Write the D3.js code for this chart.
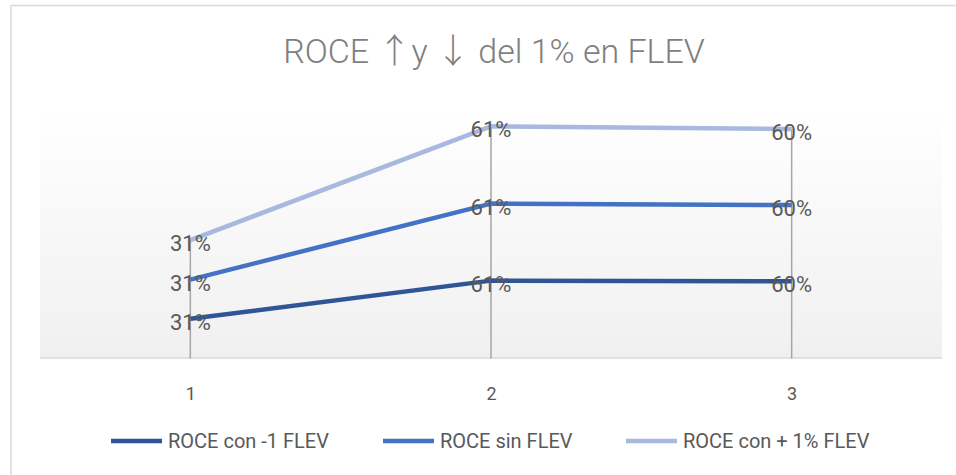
<!DOCTYPE html>
<html><head><meta charset="utf-8">
<script src="https://cdn.jsdelivr.net/npm/d3@7"></script>
<style>body{margin:0;background:#fff;}svg{display:block;font-family:Roboto,"Open Sans",sans-serif;}</style>
</head><body><svg id="c" width="956" height="475"></svg>
<script>
const categories = ["1", "2", "3"];
const seriesNames = ["ROCE con -1 FLEV", "ROCE sin FLEV", "ROCE con + 1% FLEV"];
const roceMinus = [0.307, 0.609, 0.603];
const roceSin = [0.31, 0.61, 0.604];
const rocePlus = [0.313, 0.612, 0.602];
const colors = ["#2F5597", "#4472C4", "#A9B8DE"];
const titleParts = ["ROCE ", "\u2191", "y ", "\u2193", " del 1% en FLEV"];

const svg = d3.select("#c");
const plot = {left: 40, right: 942, top: 105, bottom: 357.5};

svg.append("rect").attr("x", 11).attr("y", 5.5).attr("width", 980).attr("height", 500)
  .attr("fill", "#fff").attr("stroke", "#d9d9d9").attr("stroke-width", 1.5);

const defs = svg.append("defs");
const grad = defs.append("linearGradient").attr("id", "pg").attr("x1", 0).attr("y1", 0).attr("x2", 0).attr("y2", 1);
grad.append("stop").attr("offset", "0%").attr("stop-color", "#ffffff");
grad.append("stop").attr("offset", "100%").attr("stop-color", "#f0f0f0");
svg.append("rect").attr("x", plot.left).attr("y", plot.top).attr("width", plot.right - plot.left)
  .attr("height", plot.bottom - plot.top).attr("fill", "url(#pg)");

const data = categories.map((c, i) => ({cat: c, s0: roceMinus[i], s1: roceSin[i], s2: rocePlus[i]}));
const stacked = d3.stack().keys(["s0", "s1", "s2"])(data);

const x = d3.scalePoint().domain(categories).range([plot.left, plot.right]).padding(0.5);
const y = d3.scaleLinear().domain([0, 2]).range([plot.bottom, plot.top]);

svg.append("line").attr("x1", plot.left).attr("x2", plot.right).attr("y1", plot.bottom + 0.5).attr("y2", plot.bottom + 0.5)
  .attr("stroke", "#d9d9d9").attr("stroke-width", 1.5);

const topSeries = stacked[stacked.length - 1];
svg.selectAll(".drop").data(topSeries).enter().append("line")
  .attr("x1", d => x(d.data.cat)).attr("x2", d => x(d.data.cat))
  .attr("y1", d => y(d[1])).attr("y2", plot.bottom + 1)
  .attr("stroke", "#a6a6a6").attr("stroke-width", 1.5);

const xAxis = d3.axisBottom(x).tickSize(0).tickPadding(0);
const ax = svg.append("g").attr("transform", `translate(0,${plot.bottom})`).call(xAxis);
ax.select(".domain").remove();
ax.selectAll("text").attr("y", 42).attr("dy", 0).attr("fill", "#595959")
  .style("font-size", "18px").style("font-family", "Roboto,'Open Sans',sans-serif");

const line = d3.line().x(d => x(d.data.cat)).y(d => y(d[1]));
stacked.forEach((s, k) => {
  svg.append("path").datum(s).attr("d", line).attr("fill", "none")
    .attr("stroke", colors[k]).attr("stroke-width", 4.5).attr("stroke-linejoin", "round").attr("stroke-linecap", "butt");
});

stacked.forEach((s, k) => {
  svg.selectAll(".lbl" + k).data(s).enter().append("text")
    .attr("x", d => x(d.data.cat)).attr("y", d => y(d[1]) + 11)
    .attr("text-anchor", "middle").attr("fill", "#595959").style("font-size", "22px")
    .text(d => d3.format(".0%")(d[1] - d[0]));
});

const t = svg.append("text").attr("x", 494).attr("y", 63).attr("text-anchor", "middle")
  .attr("fill", "#7f7f7f").style("font-size", "34px").style("font-weight", "300");
titleParts.forEach((p) => {
  const ts = t.append("tspan").text(p);
  if (p === "\u2191" || p === "\u2193") ts.style("font-family", "'Noto Sans CJK JP','DejaVu Sans',sans-serif").style("font-weight", "300");
});

const legX = [111, 383, 626];
seriesNames.forEach((n, k) => {
  const lg = svg.append("g").attr("transform", `translate(${legX[k]},441)`);
  lg.append("line").attr("x1", 0).attr("x2", 51).attr("y1", 0).attr("y2", 0)
    .attr("stroke", colors[k]).attr("stroke-width", 4.5);
  lg.append("text").attr("x", 57).attr("y", 7).attr("fill", "#595959").style("font-size", "20px").text(n);
});
</script></body></html>
